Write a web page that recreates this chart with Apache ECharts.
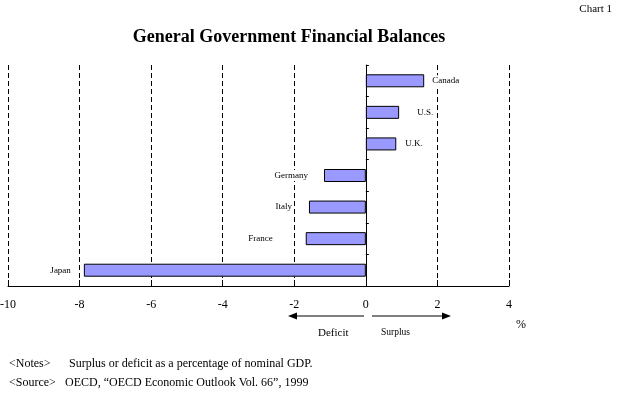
<!DOCTYPE html>
<html><head><meta charset="utf-8">
<script src="https://cdn.jsdelivr.net/npm/echarts@6/dist/echarts.min.js"></script>
<style>html,body{margin:0;padding:0;background:#fff}#c{width:619px;height:393px}</style>
</head><body><div id="c"></div>
<script>
// Data
const countries = ['Canada', 'U.S.', 'U.K.', 'Germany', 'Italy', 'France', 'Japan'];
const balances = [1.63, 0.93, 0.85, -1.17, -1.59, -1.68, -7.88];
const xTicks = { min: -10, max: 4, interval: 2 };

// Label distances (presentation only)
const labelGaps = [7, 17, 8, 15, 16, 32, 12];

const FONT = '"Liberation Serif", "Times New Roman", serif';
const chart = echarts.init(document.getElementById('c'), null, { renderer: 'canvas' });

const seriesData = balances.map((v, i) => ({
  value: v,
  label: {
    show: true,
    position: v >= 0 ? 'right' : 'left',
    distance: labelGaps[i],
    formatter: countries[i],
    fontFamily: FONT, fontSize: 9, color: '#000',
    backgroundColor: '#fff', padding: [1, 1]
  }
}));

chart.setOption({
  animation: false,
  backgroundColor: '#fff',
  grid: { left: 8, right: 110, top: 65, bottom: 107, containLabel: false, outerBoundsMode: 'none' },
  xAxis: {
    type: 'value', min: xTicks.min, max: xTicks.max, interval: xTicks.interval,
    axisLine: { show: true, lineStyle: { color: '#000', width: 1 } },
    axisTick: { show: true, inside: true, length: 6, lineStyle: { color: '#000' } },
    axisLabel: { fontFamily: FONT, fontSize: 12, color: '#000', margin: 13 },
    splitLine: { show: true, lineStyle: { color: '#000', type: [5, 3], width: 1 } }
  },
  yAxis: {
    type: 'category', data: countries, inverse: true,
    axisLine: { show: true, onZero: true, lineStyle: { color: '#000', width: 1 } },
    axisTick: { show: true, inside: true, length: 3, lineStyle: { color: '#000' } },
    axisLabel: { show: false },
    splitLine: { show: false }
  },
  series: [{
    type: 'bar', data: seriesData, barWidth: 13,
    itemStyle: { color: '#9999ff', borderColor: '#000', borderWidth: 1 }
  }],
  graphic: [
    { type: 'text', right: 7, top: 4, style: { text: 'Chart 1', font: '11px ' + FONT, fill: '#000' } },
    { type: 'text', x: 289, y: 37, style: { text: 'General Government Financial Balances', font: 'bold 18px ' + FONT, fill: '#000', align: 'center', verticalAlign: 'middle' } },
    // deficit arrow
    { type: 'line', shape: { x1: 295, y1: 316, x2: 364, y2: 316 }, style: { stroke: '#000', lineWidth: 1 } },
    { type: 'polygon', shape: { points: [[288, 316], [297, 312.5], [297, 319.5]] }, style: { fill: '#000' } },
    // surplus arrow
    { type: 'line', shape: { x1: 372, y1: 316, x2: 443, y2: 316 }, style: { stroke: '#000', lineWidth: 1 } },
    { type: 'polygon', shape: { points: [[451, 316], [442, 312.5], [442, 319.5]] }, style: { fill: '#000' } },
    { type: 'text', x: 318, y: 333, style: { text: 'Deficit', font: '11px ' + FONT, fill: '#000', verticalAlign: 'middle' } },
    { type: 'text', x: 381, y: 332, style: { text: 'Surplus', font: '9.5px ' + FONT, fill: '#000', verticalAlign: 'middle' } },
    { type: 'text', x: 516, y: 325, style: { text: '%', font: '12px ' + FONT, fill: '#000', verticalAlign: 'middle' } },
    { type: 'text', x: 9, y: 364, style: { text: '<Notes>', font: '12px ' + FONT, fill: '#000', verticalAlign: 'middle' } },
    { type: 'text', x: 69, y: 364, style: { text: 'Surplus or deficit as a percentage of nominal GDP.', font: '12px ' + FONT, fill: '#000', verticalAlign: 'middle' } },
    { type: 'text', x: 9, y: 383, style: { text: '<Source>', font: '12px ' + FONT, fill: '#000', verticalAlign: 'middle' } },
    { type: 'text', x: 65, y: 383, style: { text: 'OECD, \u201cOECD Economic Outlook Vol. 66\u201d, 1999', font: '12px ' + FONT, fill: '#000', verticalAlign: 'middle' } }
  ]
});
</script>
</body></html>
